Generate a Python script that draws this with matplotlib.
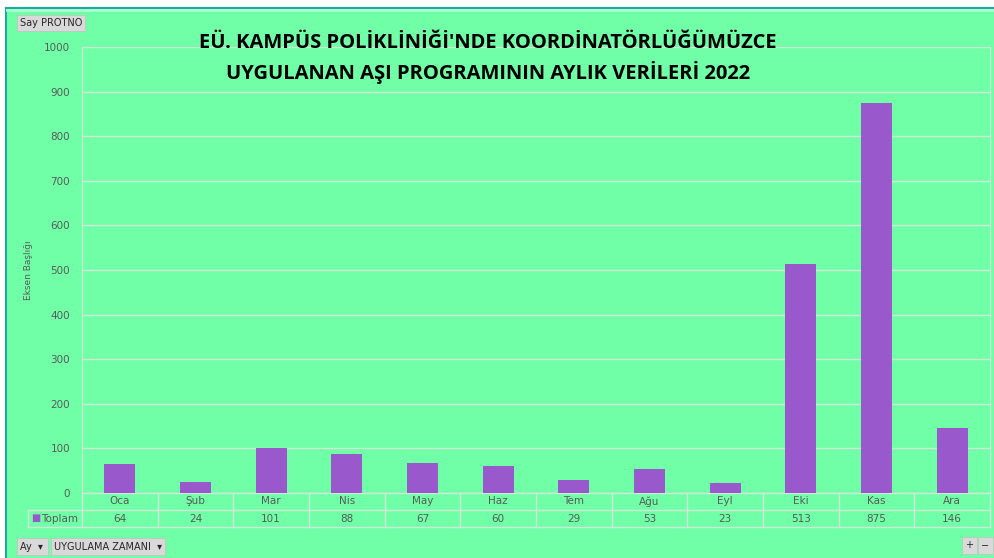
import matplotlib.pyplot as plt
from matplotlib.patches import Rectangle
from matplotlib.transforms import blended_transform_factory

# Data
months = ['Oca', 'Şub', 'Mar', 'Nis', 'May', 'Haz', 'Tem', 'Ağu', 'Eyl', 'Eki', 'Kas', 'Ara']
totals = [64, 24, 101, 88, 67, 60, 29, 53, 23, 513, 875, 146]
yticks = [0, 100, 200, 300, 400, 500, 600, 700, 800, 900, 1000]

BG = '#70FFA7'
BAR = '#9958CC'
GRID = '#CFE8D8'
TXT = '#595959'

W, H = 995, 558
fig = plt.figure(figsize=(W / 100, H / 100), dpi=100)
fig.patch.set_facecolor('white')

def fx(px):
    return px / W

def fy(py):
    return 1 - py / H

# green chart area with teal frame
fig.patches.append(Rectangle((fx(6), 0), 1, fy(7), transform=fig.transFigure,
                             facecolor=BG, edgecolor='none', zorder=-5))
fig.add_artist(plt.Line2D([fx(6), 1], [fy(7.5), fy(7.5)], color='#1FA9A0', lw=1.5, zorder=-4))
fig.add_artist(plt.Line2D([fx(6), fx(6)], [0, fy(7.5)], color='#1FA9A0', lw=1.5, zorder=-4))
fig.add_artist(plt.Line2D([fx(7.5), 1], [fy(10), fy(10)], color='#A8FFD0', lw=2, zorder=-4))

left, right, top, bottom = 82, 990, 47, 493
colw = (right - left) / 12
ax = fig.add_axes([fx(left), fy(bottom), fx(right - left), fy(top) - fy(bottom)])
ax.set_facecolor('none')
x = list(range(len(months)))
ax.bar(x, totals, width=0.41, color=BAR, zorder=3)
ax.set_xlim(-0.5, len(months) - 0.5)
ax.set_ylim(0, 1000)
ax.set_yticks(yticks)
ax.set_yticklabels([str(v) for v in yticks], color=TXT, fontsize=7.5)
ax.tick_params(axis='y', length=0, pad=8.5)
ax.set_xticks([])
ax.yaxis.grid(True, color=GRID, lw=1)
for s in ['top', 'bottom']:
    ax.spines[s].set_visible(False)
for s in ['left', 'right']:
    ax.spines[s].set_color(GRID)
ax.set_ylabel('Eksen Başlığı', fontsize=6.5, color=TXT, labelpad=8)

def dx(px):
    # pixel x -> data x
    return (px - left) / colw - 0.5

# data table under the axis
row = 17 / (bottom - top)
tr = blended_transform_factory(ax.transData, ax.transAxes)
xl = dx(28)
ax.plot([-0.5, 11.5], [0, 0], transform=tr, color=GRID, lw=1, clip_on=False)
ax.plot([xl, 11.5], [-row, -row], transform=tr, color=GRID, lw=1, clip_on=False)
ax.plot([xl, 11.5], [-2 * row, -2 * row], transform=tr, color=GRID, lw=1, clip_on=False)
for i in range(len(months) + 1):
    ax.plot([i - 0.5, i - 0.5], [0, -2 * row], transform=tr, color=GRID, lw=1, clip_on=False)
ax.plot([xl, xl], [-row, -2 * row], transform=tr, color=GRID, lw=1, clip_on=False)
for i, (m, v) in enumerate(zip(months, totals)):
    ax.text(i, -0.5 * row, m, transform=tr, ha='center', va='center', fontsize=7.5, color=TXT)
    ax.text(i, -1.5 * row, str(v), transform=tr, ha='center', va='center', fontsize=7.5, color=TXT)
ax.text(dx(41), -1.5 * row, 'Toplam', transform=tr, ha='left', va='center',
        fontsize=7.5, color=TXT)
ax.text(dx(31), -1.5 * row, '■', transform=tr, ha='left', va='center',
        fontsize=7, color=BAR)

# title
fig.text(fx(488), fy(43), "EÜ. KAMPÜS POLİKLİNİĞİ'NDE KOORDİNATÖRLÜĞÜMÜZCE",
         ha='center', va='center', fontsize=14.5, fontweight='bold', family='Open Sans')
fig.text(fx(488), fy(72), 'UYGULANAN AŞI PROGRAMININ AYLIK VERİLERİ 2022',
         ha='center', va='center', fontsize=14.5, fontweight='bold', family='Open Sans')

# pivot field buttons
def button(x0, y0, w, h, label, arrow=False):
    fig.patches.append(Rectangle((fx(x0), fy(y0 + h)), fx(w), fy(y0) - fy(y0 + h),
                                 transform=fig.transFigure, facecolor='#D9D9D9',
                                 edgecolor='#C0C0C0', lw=0.5, zorder=5))
    fig.text(fx(x0 + 3), fy(y0 + h / 2), label + ('  ▾' if arrow else ''),
             ha='left', va='center', fontsize=7, color='#262626', zorder=6)

button(17, 15, 68, 16, 'Say PROTNO')
button(17, 538, 31, 17, 'Ay', True)
button(51, 538, 114, 17, 'UYGULAMA ZAMANI', True)
button(962, 537, 15, 17, '+')
button(978, 537, 15, 17, '−')

fig.savefig('out.png', dpi=100, facecolor=fig.get_facecolor())
